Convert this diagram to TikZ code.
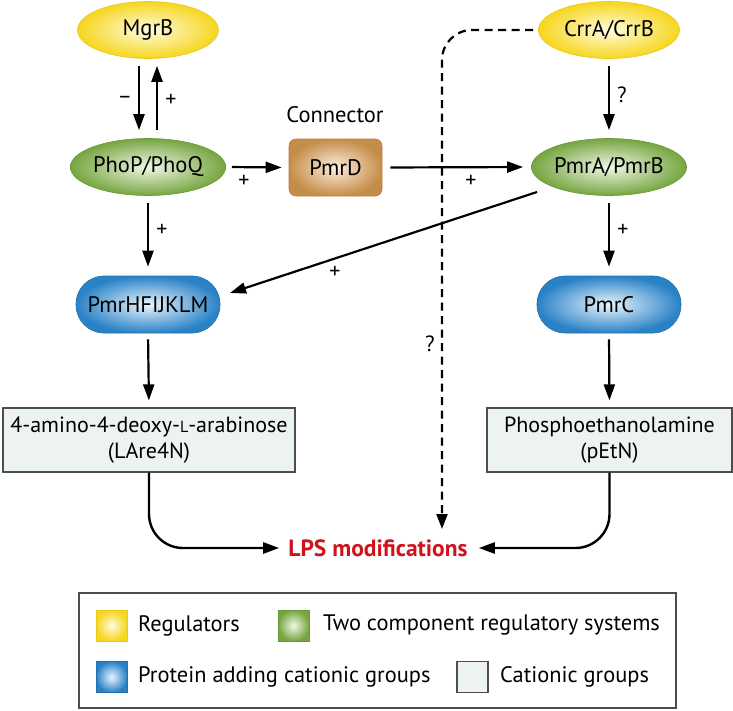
\documentclass[tikz,border=0pt]{standalone}
\usepackage{fontspec}
\setmainfont{PT Sans}
\usetikzlibrary{arrows.meta,shapes.geometric}
\definecolor{yelO}{HTML}{F6D61E}
\definecolor{yelI}{HTML}{FFFCE0}
\definecolor{yelB}{HTML}{E9C818}
\definecolor{grnO}{HTML}{76A540}
\definecolor{grnI}{HTML}{F0F7E6}
\definecolor{grnB}{HTML}{6A9838}
\definecolor{bluO}{HTML}{2A82C6}
\definecolor{bluI}{HTML}{EAF5FD}
\definecolor{bluB}{HTML}{2170B0}
\definecolor{brnO}{HTML}{C68D4A}
\definecolor{brnI}{HTML}{FCEEDD}
\definecolor{brnB}{HTML}{B57D3B}
\definecolor{boxF}{HTML}{EDF2F2}
\definecolor{boxB}{HTML}{4D4D4D}
\definecolor{lpsR}{HTML}{D0121B}
\begin{document}
\begin{tikzpicture}[x=1pt,y=-1pt,
  every node/.style={font=\fontsize{22.5}{26}\selectfont, inner sep=0pt},
  arr/.style={line width=2.2pt, -{Triangle[length=16pt,width=11pt]}},
  darr/.style={line width=2.2pt, dash pattern=on 8pt off 5.5pt, -{Triangle[length=15pt,width=11pt]}},
  reg/.style={ellipse, draw=yelB, line width=0.6pt, inner color=yelI, outer color=yelO, minimum width=141pt, minimum height=57pt},
  tcs/.style={ellipse, draw=grnB, line width=0.6pt, inner color=grnI, outer color=grnO, minimum width=141pt, minimum height=57pt},
  prot/.style={rectangle, rounded corners=28pt, draw=bluB, line width=0.6pt, inner color=bluI, outer color=bluO, minimum width=144pt, minimum height=57pt},
  conn/.style={rectangle, rounded corners=7pt, draw=brnB, line width=0.6pt, inner color=brnI, outer color=brnO, minimum width=93pt, minimum height=57pt},
  cat/.style={rectangle, draw=boxB, line width=1.2pt, fill=boxF, minimum height=64pt, align=center, font=\fontsize{22}{26}\selectfont},
  sgn/.style={font=\fontsize{22}{22}\selectfont},
  lps/.style={font=\fontsize{23.5}{23.5}\selectfont\bfseries, text=lpsR},
  sq/.style={rectangle, line width=0.6pt, minimum width=31pt, minimum height=31pt},
  legt/.style={anchor=west, font=\fontsize{22.4}{22.4}\selectfont}]
\useasboundingbox (0,0) rectangle (733,710);

% nodes
\node[reg] (mgrb) at (148,30) {MgrB};
\node[reg] (crr) at (609,30) {CrrA/CrrB};
\node[tcs] (phop) at (148,167) {PhoP/PhoQ};
\node[tcs] (pmra) at (609,167) {PmrA/PmrB};
\node[conn] (pmrd) at (335.5,167.5) {PmrD};
\node (conlab) at (335,115) {Connector};
\node[prot] (pmrh) at (148,304.5) {PmrHFIJKLM};
\node[prot] (pmrc) at (609,304.5) {PmrC};
\node[cat, minimum width=292pt] (ara) at (149,440) {4-amino-4-deoxy-{\fontsize{16}{16}\selectfont L}-arabinose\\(LAre4N)};
\node[cat, minimum width=245pt] (petn) at (609.5,440) {Phosphoethanolamine\\(pEtN)};
\node[lps] (lps) at (378,548) {LPS modifications};

% connectors
\draw[arr, shorten <=7pt, shorten >=8pt] ([xshift=-9pt]mgrb.south) -- ([xshift=-9pt]phop.north);
\draw[arr, shorten <=8pt, shorten >=7pt] ([xshift=9pt]phop.north) -- ([xshift=9pt]mgrb.south);
\draw[arr, shorten <=7pt, shorten >=8pt] (crr.south) -- (pmra.north);
\draw[arr, shorten <=6pt, shorten >=7pt] (phop.east) -- (pmrd.west);
\draw[arr, shorten <=8pt, shorten >=8pt] (pmrd.east) -- (pmra.west);
\draw[arr, shorten <=7pt, shorten >=9pt] (phop.south) -- (pmrh.north);
\draw[arr, shorten <=7pt, shorten >=9pt] (pmra.south) -- (pmrc.north);
\coordinate (s1) at (537,192);
\coordinate (t1) at (230,293);
\draw[arr] (s1) -- (t1);
\draw[arr, shorten <=6pt, shorten >=7pt] (pmrh.south) -- (ara.north);
\draw[arr, shorten <=6pt, shorten >=7pt] (pmrc.south) -- (petn.north);
\draw[arr, line width=2.4pt, rounded corners=34pt, shorten >=9pt] (ara.south) |- (lps.west);
\draw[arr, line width=2.4pt, rounded corners=34pt, shorten >=11pt] (petn.south) |- (lps.east);
\coordinate (dend) at (442,529);
\draw[darr, rounded corners=30pt, shorten <=5pt] (crr.west) -| (dend);

% signs
\node[sgn] (m1) at (125,100) {–};
\node[sgn] (p1) at (171,100) {+};
\node[sgn] (q1) at (622,95) {?};
\node[sgn] (p2) at (244,181) {+};
\node[sgn] (p3) at (471,181) {+};
\node[sgn] (p4) at (162,230) {+};
\node[sgn] (p5) at (623,230) {+};
\node[sgn] (p6) at (335,272) {+};
\node[sgn] (q2) at (430,344) {?};

% legend
\node[draw=boxB, line width=1.5pt, minimum width=597pt, minimum height=115pt] (legend) at (377.5,650.5) {};
\node[sq, draw=yelB, inner color=yelI, outer color=yelO] (ly) at (111.5,625.5) {};
\node[sq, draw=grnB, inner color=grnI, outer color=grnO] (lg) at (293.5,625.5) {};
\node[sq, draw=bluB, inner color=bluI, outer color=bluO] (lb) at (111.5,677) {};
\node[sq, draw=boxB, line width=1.2pt, fill=boxF] (lc) at (472.5,677) {};
\node[legt] (ty) at (138,625.5) {Regulators};
\node[legt] (tg) at (323,625.5) {Two component regulatory systems};
\node[legt] (tb) at (138,677) {Protein adding cationic groups};
\node[legt] (tc) at (500,677) {Cationic groups};
\end{tikzpicture}
\end{document}
